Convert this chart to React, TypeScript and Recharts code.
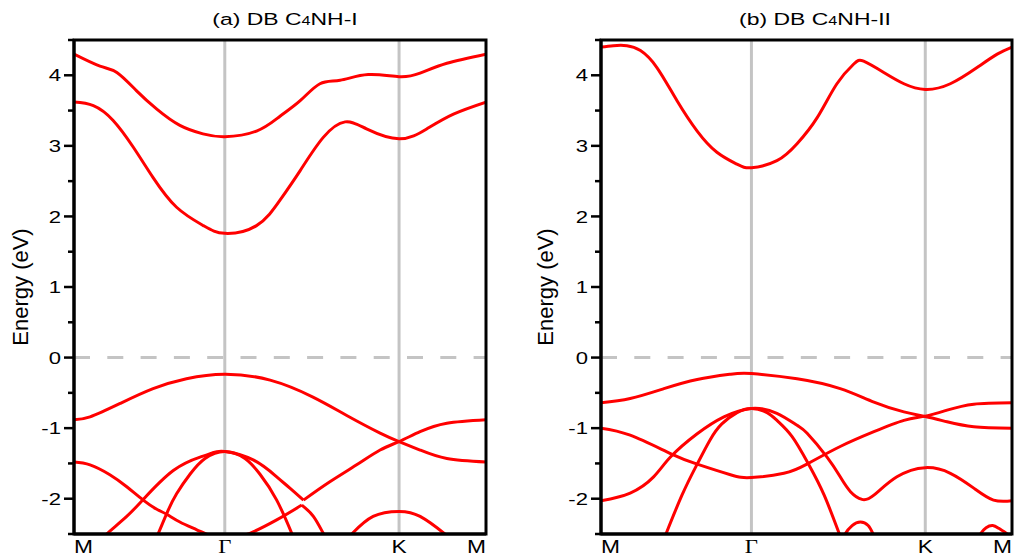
import React from "react";
import { LineChart, Line, XAxis, YAxis, ReferenceLine } from "recharts";

// high-symmetry points along M-Γ-K-M (fraction of the path)
const G = 0.366;
const K = 0.789;
const kTicks = [0, G, K, 1];
const kLabels = ["M", "Γ", "K", "M"];
const eTicks = [-2.5, -2, -1.5, -1, -0.5, 0, 0.5, 1, 1.5, 2, 2.5, 3, 3.5, 4, 4.5];
const eMin = -2.5;
const eMax = 4.5;

type Pt = [number, number];

// (a) DB C4NH-I
const aCb2: Pt[] = [[0, 4.3], [0.063, 4.13], [0.104, 4.04], [0.152, 3.78], [0.201, 3.52], [0.257, 3.29], [0.313, 3.17], [0.366, 3.13], [0.443, 3.21], [0.5, 3.42], [0.549, 3.64], [0.597, 3.88], [0.646, 3.93], [0.714, 4.01], [0.789, 3.98], [0.84, 4.03], [0.905, 4.17], [1, 4.3]];
const aCb1: Pt[] = [[0, 3.62], [0.047, 3.57], [0.095, 3.36], [0.144, 2.98], [0.192, 2.55], [0.249, 2.13], [0.314, 1.87], [0.366, 1.76], [0.443, 1.87], [0.5, 2.23], [0.549, 2.65], [0.605, 3.12], [0.658, 3.34], [0.71, 3.24], [0.789, 3.1], [0.856, 3.24], [0.921, 3.45], [1, 3.62]];
const aVb1: Pt[] = [[0, -0.88], [0.039, -0.84], [0.112, -0.65], [0.192, -0.44], [0.273, -0.3], [0.366, -0.236], [0.476, -0.32], [0.58, -0.56], [0.662, -0.82], [0.743, -1.07], [0.789, -1.19], [0.84, -1.31], [0.905, -1.43], [1, -1.48]];
const aVb2: Pt[] = [[0.557, -2.02], [0.621, -1.76], [0.686, -1.52], [0.743, -1.31], [0.789, -1.19], [0.84, -1.05], [0.905, -0.93], [1, -0.88]];
const aOuter: Pt[] = [[0.051, -2.66], [0.079, -2.5], [0.128, -2.25], [0.168, -2.01], [0.241, -1.6], [0.306, -1.41], [0.336, -1.35], [0.366, -1.33], [0.435, -1.45], [0.492, -1.69], [0.524, -1.85], [0.557, -2.02]];
const aInner: Pt[] = [[0.197, -2.6], [0.225, -2.21], [0.249, -1.93], [0.282, -1.65], [0.318, -1.43], [0.366, -1.33], [0.415, -1.43], [0.451, -1.65], [0.492, -2.02], [0.532, -2.54], [0.544, -2.72]];
const aLowA: Pt[] = [[0, -1.48], [0.039, -1.52], [0.087, -1.66], [0.128, -1.83], [0.168, -2.02], [0.201, -2.15], [0.225, -2.22], [0.257, -2.33], [0.298, -2.44], [0.33, -2.52], [0.366, -2.55], [0.403, -2.52], [0.427, -2.49], [0.492, -2.3], [0.553, -2.09]];
const aLowB: Pt[] = [[0.553, -2.09], [0.581, -2.25], [0.605, -2.49], [0.621, -2.64]];
const aKArc: Pt[] = [[0.646, -2.66], [0.674, -2.5], [0.726, -2.25], [0.789, -2.18], [0.84, -2.25], [0.9, -2.5], [0.925, -2.64]];

// (b) DB C4NH-II
const bCb: Pt[] = [[0, 4.4], [0.03, 4.42], [0.063, 4.42], [0.096, 4.35], [0.136, 4.11], [0.185, 3.64], [0.234, 3.21], [0.282, 2.91], [0.331, 2.74], [0.366, 2.69], [0.428, 2.79], [0.477, 3.03], [0.526, 3.4], [0.574, 3.88], [0.615, 4.16], [0.639, 4.2], [0.688, 4.04], [0.737, 3.88], [0.789, 3.8], [0.85, 3.88], [0.915, 4.11], [0.964, 4.3], [1, 4.4]];
const bVb1: Pt[] = [[0, -0.64], [0.071, -0.58], [0.153, -0.44], [0.234, -0.31], [0.315, -0.236], [0.366, -0.227], [0.477, -0.3], [0.582, -0.44], [0.664, -0.63], [0.737, -0.77], [0.789, -0.835], [0.842, -0.91], [0.907, -0.98], [1, -1.0]];
const bVb2: Pt[] = [[0, -1.0], [0.071, -1.1], [0.169, -1.36], [0.234, -1.51], [0.315, -1.66], [0.366, -1.7], [0.445, -1.64], [0.501, -1.51], [0.582, -1.26], [0.664, -1.05], [0.737, -0.89], [0.789, -0.83], [0.842, -0.745], [0.907, -0.66], [1, -0.64]];
const bBroad: Pt[] = [[0, -2.03], [0.071, -1.92], [0.128, -1.69], [0.169, -1.41], [0.234, -1.08], [0.299, -0.84], [0.366, -0.72], [0.428, -0.79], [0.477, -0.96], [0.501, -1.07], [0.55, -1.41], [0.582, -1.69], [0.607, -1.9], [0.635, -2.01], [0.664, -1.95], [0.72, -1.69], [0.789, -1.56], [0.85, -1.64], [0.907, -1.85], [0.955, -2.02], [1, -2.03]];
const bSteep: Pt[] = [[0.144, -2.7], [0.158, -2.5], [0.197, -1.95], [0.234, -1.51], [0.265, -1.17], [0.294, -0.94], [0.331, -0.78], [0.366, -0.72], [0.404, -0.78], [0.43, -0.9], [0.465, -1.12], [0.504, -1.5], [0.543, -1.95], [0.58, -2.5], [0.594, -2.7]];
const bArc1: Pt[] = [[0.584, -2.64], [0.594, -2.5], [0.611, -2.38], [0.631, -2.33], [0.65, -2.38], [0.662, -2.5], [0.672, -2.62]];
const bArc2: Pt[] = [[0.91, -2.64], [0.923, -2.5], [0.937, -2.41], [0.953, -2.38], [0.968, -2.42], [0.988, -2.5], [1, -2.58]];

const aBands = [aCb2, aCb1, aVb1, aVb2, aOuter, aInner, aLowA, aLowB, aKArc];
const bBands = [bCb, bVb1, bVb2, bBroad, bSteep, bArc1, bArc2];

const FONT = "'Liberation Sans', Arial, sans-serif";
const SX = 1.3; // text in the figure is drawn horizontally stretched

// chart box: both panels share the same plot height
const PANEL_W = 511;
const PANEL_H = 560;
const M_TOP = 40;
const M_BOTTOM = 6;
const X_AXIS_H = 20;
const Y_AXIS_W = 60;

const rows = (pts: Pt[]) => pts.map(([k, e]) => ({ k, e }));

function YTick({ x, y, payload }: any) {
  const v = payload.value as number;
  const major = Number.isInteger(v);
  return (
    <g>
      <line x1={x - (major ? 10 : 6)} x2={x} y1={y} y2={y} stroke="#000" strokeWidth={2.5} />
      {major && (
        <text
          transform={`translate(${x - 13},${y}) scale(${SX},1)`}
          textAnchor="end"
          dy="0.36em"
          fontSize={17}
          fontFamily={FONT}
          fill="#000"
        >
          {v}
        </text>
      )}
    </g>
  );
}

function XTick({ x, y, index }: any) {
  const anchor = index === 0 ? "start" : index === kTicks.length - 1 ? "end" : "middle";
  const label = kLabels[index];
  return (
    <text
      transform={`translate(${x},${y + 19}) scale(1.2,1)`}
      textAnchor={anchor}
      fontSize={19}
      fontFamily={label === "Γ" ? "'Liberation Serif', serif" : FONT}
      fill="#000"
    >
      {label}
    </text>
  );
}

function BandPanel({ bands, left, marginLeft, marginRight }: { bands: Pt[][]; left: number; marginLeft: number; marginRight: number }) {
  const plotLeft = marginLeft + Y_AXIS_W;
  const plotW = PANEL_W - plotLeft - marginRight;
  const plotH = PANEL_H - M_TOP - M_BOTTOM - X_AXIS_H;
  return (
    <div style={{ position: "absolute", left, top: 0, width: PANEL_W, height: PANEL_H }}>
      <LineChart width={PANEL_W} height={PANEL_H} margin={{ top: M_TOP, right: marginRight, bottom: M_BOTTOM, left: marginLeft }}>
        <XAxis
          dataKey="k"
          type="number"
          domain={[0, 1]}
          ticks={kTicks}
          interval={0}
          tick={(p: any) => <XTick {...p} />}
          tickLine={false}
          axisLine={{ stroke: "#000", strokeWidth: 3 }}
          tickSize={0}
          tickMargin={0}
          height={X_AXIS_H}
          allowDataOverflow
        />
        <YAxis
          type="number"
          domain={[eMin, eMax]}
          ticks={eTicks}
          interval={0}
          tick={(p: any) => <YTick {...p} />}
          tickLine={false}
          axisLine={{ stroke: "#000", strokeWidth: 3 }}
          tickSize={0}
          tickMargin={0}
          width={Y_AXIS_W}
          allowDataOverflow
        />
        <ReferenceLine x={G} stroke="#c4c4c4" strokeWidth={3} />
        <ReferenceLine x={K} stroke="#c4c4c4" strokeWidth={3} />
        <ReferenceLine y={0} stroke="#c4c4c4" strokeWidth={3} strokeDasharray="16 17.3" />
        {bands.map((b, i) => (
          <Line
            key={i}
            data={rows(b)}
            dataKey="e"
            type="natural"
            stroke="#ff0000"
            strokeWidth={3}
            dot={false}
            activeDot={false}
            isAnimationActive={false}
          />
        ))}
      </LineChart>
      {/* plot frame drawn on top of the chart */}
      <svg width={PANEL_W} height={PANEL_H} style={{ position: "absolute", left: 0, top: 0, pointerEvents: "none" }}>
        <rect x={plotLeft} y={M_TOP} width={plotW} height={plotH} fill="none" stroke="#000" strokeWidth={3} />
      </svg>
    </div>
  );
}

function Title({ cx, tag, suffix }: { cx: number; tag: string; suffix: string }) {
  return (
    <text transform={`translate(${cx},25) scale(1.35,1)`} textAnchor="middle" fontSize={17} fontFamily={FONT} fill="#000">
      {tag} DB C<tspan fontSize={12}>4</tspan>NH-{suffix}
    </text>
  );
}

function EnergyLabel({ cx }: { cx: number }) {
  return (
    <text
      transform={`translate(${cx},287) rotate(-90)`}
      textAnchor="middle"
      dominantBaseline="central"
      fontSize={22}
      fontFamily={FONT}
      fill="#000"
    >
      Energy (eV)
    </text>
  );
}

export default function App() {
  return (
    <div style={{ position: "absolute", left: 0, top: 0, width: 1022, height: 560, background: "#fff", overflow: "hidden" }}>
      <BandPanel bands={aBands} left={0} marginLeft={14} marginRight={25} />
      <BandPanel bands={bBands} left={511} marginLeft={30} marginRight={10} />
      <svg width={1022} height={560} style={{ position: "absolute", left: 0, top: 0, pointerEvents: "none" }}>
        <Title cx={285} tag="(a)" suffix="I" />
        <Title cx={815} tag="(b)" suffix="II" />
        <EnergyLabel cx={20} />
        <EnergyLabel cx={545} />
      </svg>
    </div>
  );
}
